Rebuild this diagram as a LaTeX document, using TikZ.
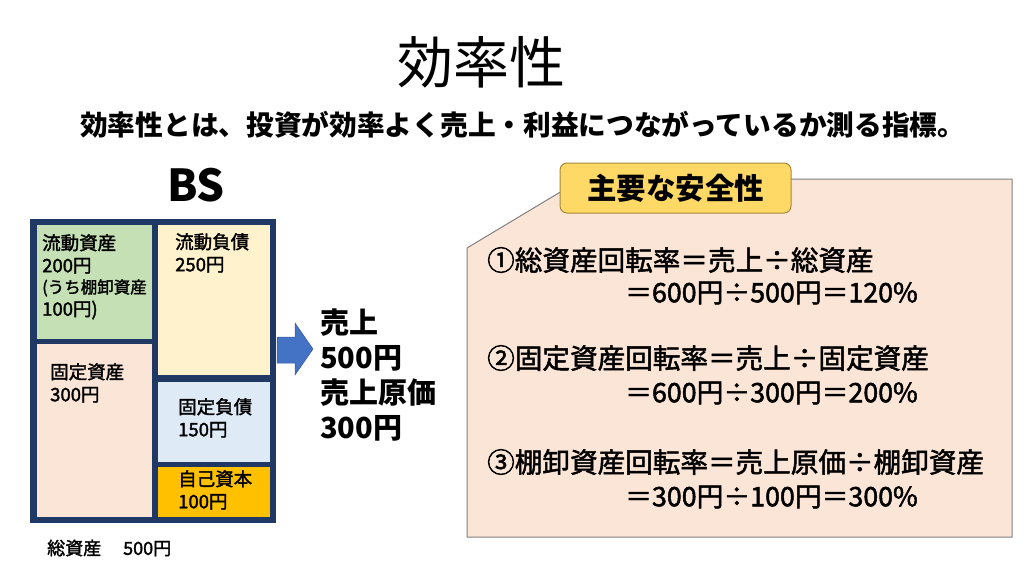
\documentclass[tikz,border=0pt]{standalone}
\usepackage{fontspec}
\setmainfont{Noto Sans CJK JP}
\newfontfamily\jpmid{Noto Sans CJK JP}[FakeBold=1.8]
\definecolor{bsnavy}{HTML}{1F3864}
\definecolor{curasset}{HTML}{C5E0B4}
\definecolor{fixasset}{HTML}{FBE5D6}
\definecolor{curdebt}{HTML}{FFF2CC}
\definecolor{fixdebt}{HTML}{DEEBF7}
\definecolor{equity}{HTML}{FFC000}
\definecolor{panelfill}{HTML}{FBE5D6}
\definecolor{tagfill}{HTML}{FFD966}
\definecolor{tagline}{HTML}{A6873A}
\definecolor{arrowblue}{HTML}{4472C4}

\begin{document}
\begin{tikzpicture}[x=1pt,y=-1pt,
  every node/.style={inner sep=0pt,anchor=west,align=left},
  cell/.style={anchor=north west,font=\jpmid\fontsize{18.5}{22.5}\selectfont},
  ratio/.style={font=\jpmid\fontsize{27.6}{27.6}\selectfont}]
  \useasboundingbox (0,0) rectangle (1024,576);
  \path (481,62) node[anchor=center,font=\fontsize{56}{56}\selectfont] (title) {効率性}
  (80,125) node[font=\bfseries\fontsize{27.7}{27.7}\selectfont] (lead) {効率性とは、投資が効率よく売上・利益につながっているか測る指標。};
  % BS
  \path (196,185) node[anchor=center,font=\bfseries\fontsize{44}{44}\selectfont] (bs) {BS};
  \fill[bsnavy] (30,219) rectangle (276,523);
  \fill[curasset] (37,225) rectangle (152,339);
  \fill[fixasset] (37,344) rectangle (152,517);
  \fill[curdebt] (158,225) rectangle (270,375);
  \fill[fixdebt] (158,382) rectangle (270,462);
  \fill[equity] (158,467) rectangle (270,517);
  \path (42,234) node[cell] (ca) {流動資産\\200円\\[-1.5pt]\fontsize{16.5}{22}\selectfont(うち棚卸資産\\100円)}
  (175,233) node[cell] (cl) {流動負債\\250円}
  (50,363) node[cell] (fa) {固定資産\\300円}
  (178,398) node[cell] (fl) {固定負債\\150円}
  (178,470) node[cell] (eq) {自己資本\\100円}
  (47,548) node[font=\jpmid\fontsize{18}{18}\selectfont] (total) {総資産\hspace{22pt}500円};
  \filldraw[fill=arrowblue,draw=arrowblue!80!black,line width=.5pt]
    (277,337) -- (295,337) -- (295,323) -- (313,349) -- (295,375) -- (295,363) -- (277,363) -- cycle;
  \path (320,309) node[anchor=north west,font=\bfseries\fontsize{29}{35}\selectfont] (sales) {売上\\500円\\売上原価\\300円};
  % ratios
  \filldraw[fill=panelfill,draw=black!50,line width=1pt]
    (467,248) -- (582,179) -- (1012,179) -- (1012,537) -- (467,537) -- cycle;
  \node[anchor=center,draw=tagline,fill=tagfill,line width=1pt,rounded corners=7pt,
    minimum width=231pt,minimum height=50pt,font=\bfseries\fontsize{29.5}{29.5}\selectfont] (tag) at (675.5,188) {主要な安全性};
  \path (487,260) node[ratio] (r1) {①総資産回転率＝売上÷総資産}
  (625,293) node[ratio,font=\jpmid\fontsize{26.8}{26.8}\selectfont] (v1) {＝600円÷500円＝120\%}
  (487,358) node[ratio] (r2) {②固定資産回転率＝売上÷固定資産}
  (625,393) node[ratio,font=\jpmid\fontsize{26.8}{26.8}\selectfont] (v2) {＝600円÷300円＝200\%}
  (487,462) node[ratio] (r3) {③棚卸資産回転率＝売上原価÷棚卸資産}
  (625,497) node[ratio,font=\jpmid\fontsize{26.8}{26.8}\selectfont] (v3) {＝300円÷100円＝300\%};
\end{tikzpicture}
\end{document}
